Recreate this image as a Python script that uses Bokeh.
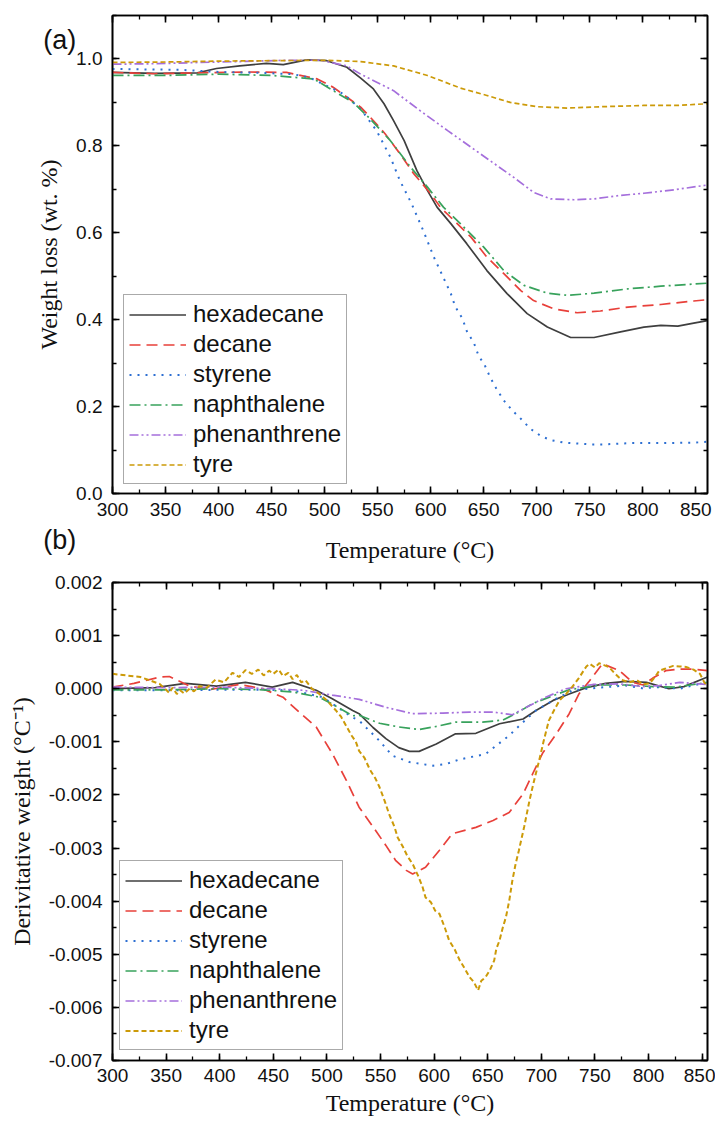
from bokeh.plotting import figure
from bokeh.models import (Range1d, LinearAxis, SingleIntervalTicker, PrintfTickFormatter,
                          Legend, LegendItem, Label, CustomLabelingPolicy)
from bokeh.layouts import column
from bokeh.embed import file_html
from bokeh.resources import INLINE

names = ["hexadecane", "decane", "styrene", "naphthalene", "phenanthrene", "tyre"]
colors = ["#3f3f3f", "#e8403a", "#2d6fd2", "#38a25c", "#a56fdc", "#cc9a08"]
dashes = ["solid", "11 6", "2 6", "11 4 2 4", "9 3 2 3 2 3", "5 3"]
widths = [1.7, 1.7, 2.0, 1.7, 1.7, 1.7]

hex_T = [300, 340, 380, 398, 420, 445, 461, 483, 502, 521, 534, 546, 556, 565, 575, 587, 597, 606,
         619, 634, 653, 672, 691, 710, 732, 754, 779, 801, 817, 833, 848, 861]
hex_W = [0.969, 0.967, 0.968, 0.978, 0.984, 0.990, 0.987, 0.998, 0.996, 0.981, 0.956, 0.931, 0.897,
         0.858, 0.812, 0.743, 0.697, 0.659, 0.621, 0.575, 0.513, 0.460, 0.414, 0.383, 0.359, 0.359,
         0.372, 0.383, 0.387, 0.385, 0.392, 0.398]
dec_T = [300, 340, 380, 427, 464, 493, 508, 534, 543, 557, 571, 584, 600, 609, 625, 638, 653, 669,
         685, 697, 716, 738, 760, 786, 817, 848, 861]
dec_W = [0.969, 0.966, 0.968, 0.970, 0.969, 0.954, 0.935, 0.889, 0.866, 0.828, 0.782, 0.736, 0.690,
         0.659, 0.621, 0.590, 0.544, 0.506, 0.467, 0.444, 0.425, 0.416, 0.420, 0.429, 0.435, 0.443,
         0.446]
sty_T = [300, 330, 364, 400, 440, 470, 486, 518, 534, 549, 562, 571, 582, 593, 603, 619, 623, 630,
         634, 641, 645, 651, 656, 662, 669, 677, 685, 694, 704, 713, 726, 751, 763, 789, 817, 848, 861]
sty_W = [0.977, 0.976, 0.975, 0.970, 0.968, 0.965, 0.957, 0.919, 0.885, 0.835, 0.774, 0.720, 0.667,
         0.605, 0.544, 0.460, 0.431, 0.402, 0.374, 0.345, 0.318, 0.295, 0.268, 0.241, 0.214, 0.191,
         0.172, 0.149, 0.132, 0.123, 0.117, 0.113, 0.113, 0.116, 0.116, 0.117, 0.119]
nap_T = [300, 350, 400, 450, 470, 490, 508, 527, 543, 562, 581, 597, 612, 628, 650, 669, 688, 710,
         729, 754, 786, 817, 861]
nap_W = [0.962, 0.962, 0.965, 0.962, 0.958, 0.954, 0.927, 0.900, 0.862, 0.812, 0.751, 0.705, 0.659,
         0.621, 0.567, 0.513, 0.479, 0.461, 0.456, 0.461, 0.471, 0.477, 0.484]
phe_T = [300, 340, 383, 420, 464, 496, 521, 534, 565, 590, 616, 638, 660, 678, 697, 713, 735, 754,
         779, 801, 830, 861]
phe_W = [0.988, 0.989, 0.992, 0.994, 0.997, 0.997, 0.984, 0.965, 0.927, 0.881, 0.835, 0.797, 0.759,
         0.728, 0.693, 0.678, 0.676, 0.678, 0.686, 0.691, 0.699, 0.710]
tyr_T = [300, 350, 400, 450, 500, 534, 565, 597, 628, 653, 675, 701, 729, 760, 801, 833, 861]
tyr_W = [0.992, 0.993, 0.995, 0.996, 0.997, 0.994, 0.984, 0.962, 0.933, 0.916, 0.900, 0.890, 0.887,
         0.890, 0.893, 0.893, 0.897]

hex_dT = [300, 340, 368, 397, 424, 449, 468, 490, 505, 524, 530, 543, 555, 567, 577, 586, 602, 620,
          639, 661, 683, 695, 711, 726, 742, 760, 779, 798, 819, 833, 855]
hex_dV = [0.0, 0.00002, 0.0001, 0.00005, 0.00012, 0.00003, 0.00012, -0.00003, -0.00019, -0.00041,
          -0.00047, -0.00073, -0.00094, -0.00111, -0.00118, -0.00118, -0.00104, -0.00085, -0.00084,
          -0.00066, -0.00057, -0.00041, -0.00022, -0.0001, 0.00002, 0.0001, 0.00014, 0.00012, 0.0,
          0.00004, 0.00022]
dec_dT = [300, 320, 344, 353, 372, 390, 418, 440, 459, 474, 490, 505, 518, 530, 543, 555, 564, 574,
          580, 592, 605, 617, 639, 655, 670, 683, 692, 701, 714, 726, 735, 745, 757, 773, 785, 795,
          804, 816, 829, 841, 855]
dec_dV = [0.00003, 0.0001, 0.00022, 0.00023, 0.00005, -0.00002, 0.00008, 0.0, -0.00016, -0.00044,
          -0.00072, -0.00122, -0.00172, -0.00223, -0.0026, -0.00295, -0.00323, -0.00342, -0.00349,
          -0.00336, -0.00304, -0.00273, -0.00261, -0.00248, -0.00233, -0.00198, -0.0016, -0.00122,
          -0.00085, -0.00047, -0.0001, 0.00015, 0.00047, 0.00034, 0.00012, 0.00007, 0.0002, 0.00034,
          0.00037, 0.00037, 0.00034]
sty_dT = [300, 350, 400, 440, 468, 496, 524, 530, 549, 561, 577, 599, 611, 624, 648, 670, 683, 695,
          711, 729, 754, 779, 794, 810, 829, 841, 855]
sty_dV = [-0.00003, -0.00003, -0.00002, -0.00002, -0.00003, -0.00016, -0.00054, -0.0006, -0.00098,
          -0.00126, -0.00138, -0.00145, -0.00142, -0.00133, -0.00123, -0.00088, -0.00063, -0.00041,
          -0.00022, -0.00003, 0.00002, 0.00006, 0.00001, 0.00003, 0.0, 0.00006, 0.00012]
nap_dT = [300, 350, 400, 440, 468, 493, 505, 524, 530, 549, 567, 586, 602, 620, 645, 664, 676, 692,
          711, 726, 754, 779, 804, 825, 855]
nap_dV = [-0.00002, -0.00002, 0.0, -0.00002, -0.00006, -0.00016, -0.00029, -0.00051, -0.0005,
          -0.00065, -0.00072, -0.00077, -0.00071, -0.00063, -0.00063, -0.00059, -0.00047, -0.00028,
          -0.00013, -0.00002, 0.00007, 0.00007, 0.00004, 0.00003, 0.00012]
phe_dT = [300, 350, 400, 450, 478, 505, 524, 530, 555, 580, 608, 633, 655, 673, 686, 704, 723, 748,
          773, 795, 810, 829, 855]
phe_dV = [0.00003, 0.00002, 0.00003, 0.0, -0.00003, -0.00012, -0.00018, -0.0002, -0.00035, -0.00047,
          -0.00046, -0.00044, -0.00044, -0.00049, -0.00035, -0.00016, 0.0, 0.00008, 0.00009, 0.00004,
          0.00006, 0.00012, 0.00008]
tyr_dT = [300, 326, 344, 350, 353, 356, 360, 363, 367, 372, 376, 381, 388, 396, 404, 412, 418, 424,
          430, 436, 441, 446, 450, 455, 459, 464, 468, 472, 476, 480, 486, 493, 500, 508, 513, 518,
          523, 527, 530, 535, 540, 545, 549, 554, 558, 563, 566, 571, 575, 580, 585, 589, 592, 597,
          601, 605, 610, 614, 619, 624, 628, 633, 637, 641, 644, 648, 652, 656, 658, 661, 664, 667,
          670, 673, 676, 679, 684, 689, 693, 698, 702, 707, 712, 717, 723, 729, 735, 742, 745, 750,
          754, 759, 763, 768, 772, 776, 782, 789, 795, 801, 806, 810, 816, 823, 829, 835, 842, 848,
          852, 855]
tyr_dV = [0.00028, 0.00022, 0.00009, -0.00002, -0.00008, 0.00002, -0.0001, -0.00003, -0.00009, 0.0,
          -0.00005, 0.00005, 0.00002, 0.00017, 0.00012, 0.0003, 0.00022, 0.00035, 0.00028, 0.00036,
          0.00025, 0.00034, 0.00028, 0.00036, 0.00024, 0.0003, 0.00018, 0.00026, 0.00012, 0.00016,
          0.0, -0.0001, -0.00022, -0.0004, -0.00052, -0.0007, -0.00088, -0.001, -0.00117, -0.0013,
          -0.00152, -0.00168, -0.00185, -0.00212, -0.00236, -0.0026, -0.0028, -0.00298, -0.00315,
          -0.0033, -0.00352, -0.00372, -0.00393, -0.00402, -0.00418, -0.00424, -0.0045, -0.00474,
          -0.0049, -0.00512, -0.00525, -0.00543, -0.00552, -0.00568, -0.0055, -0.00543, -0.0053,
          -0.00512, -0.0049, -0.00474, -0.0045, -0.0043, -0.004, -0.00361, -0.0033, -0.00305,
          -0.0026, -0.0021, -0.00175, -0.00135, -0.001, -0.0006, -0.0004, -0.00022, -0.0001, 0.00004,
          0.0002, 0.00042, 0.00047, 0.0004, 0.00048, 0.00044, 0.00041, 0.0003, 0.00022, 0.00016,
          0.00012, 0.00016, 0.00008, 0.0001, 0.00022, 0.00034, 0.00038, 0.00043, 0.00042, 0.00041,
          0.00036, 0.00028, 0.00012, 0.00005]

x_ticks_step = 50
x_label = "Temperature (\u00b0C)"
ya_label = "Weight loss (wt. %)"
yb_label = "Derivitative weight (\u00b0C\u207b\u00b9)"
panel_names = ["(a)", "(b)"]

TICK_FONT = "Liberation Sans"
LABEL_FONT = "Liberation Serif"
NO_LABELS = CustomLabelingPolicy(code="return new Set()")


def style_axis(ax, labels=True, label_standoff=10, axis_standoff=10):
    ax.axis_line_color = "black"
    ax.axis_line_width = 1.6
    ax.major_tick_in = 7
    ax.major_tick_out = 0
    ax.minor_tick_in = 4
    ax.minor_tick_out = 0
    ax.major_tick_line_color = "black"
    ax.minor_tick_line_color = "black"
    ax.major_tick_line_width = 1.6
    ax.minor_tick_line_width = 1.3
    ax.major_label_text_font = TICK_FONT
    ax.major_label_text_font_size = "19px"
    ax.major_label_text_color = "#111111"
    ax.major_label_standoff = label_standoff
    ax.axis_label_text_font = LABEL_FONT
    ax.axis_label_text_font_size = "24px"
    ax.axis_label_text_font_style = "normal"
    ax.axis_label_text_color = "#111111"
    ax.axis_label_standoff = axis_standoff
    if not labels:
        ax.major_label_policy = NO_LABELS
        ax.major_label_text_font_size = "1px"
        ax.major_label_standoff = 0


def make_fig(x_end, y_start, y_end, y_step, fmt, height, top, bottom, xl_standoff, xt_standoff):
    p = figure(width=715, height=height, output_backend="svg", toolbar_location=None,
               x_range=Range1d(300, x_end), y_range=Range1d(y_start, y_end),
               min_border_left=112, min_border_right=8, min_border_top=top,
               min_border_bottom=bottom, x_axis_type=None, y_axis_type=None)
    p.grid.visible = False
    p.outline_line_color = "black"
    p.outline_line_width = 1.6
    p.background_fill_color = "white"
    p.border_fill_color = "white"
    xt = SingleIntervalTicker(interval=x_ticks_step, num_minor_ticks=2)
    yt = SingleIntervalTicker(interval=y_step, num_minor_ticks=2)
    xb = LinearAxis(ticker=xt, axis_label=x_label)
    style_axis(xb, True, xt_standoff, xl_standoff)
    p.add_layout(xb, "below")
    xa = LinearAxis(ticker=xt)
    style_axis(xa, False)
    p.add_layout(xa, "above")
    yl = LinearAxis(ticker=yt, formatter=PrintfTickFormatter(format=fmt))
    style_axis(yl, True, 10, 11)
    p.add_layout(yl, "left")
    yr = LinearAxis(ticker=yt)
    style_axis(yr, False)
    p.add_layout(yr, "right")
    return p, yl


def add_legend(p, renderers, loc):
    items = [LegendItem(label=n, renderers=[r]) for n, r in zip(names, renderers)]
    lg = Legend(items=items, location=loc)
    lg.label_text_font = TICK_FONT
    lg.label_text_font_size = "24px"
    lg.label_text_color = "#111111"
    lg.glyph_width = 57
    lg.glyph_height = 25
    lg.label_height = 25
    lg.label_standoff = 7
    lg.spacing = 2
    lg.padding = 5
    lg.margin = 0
    lg.border_line_color = "#555555"
    lg.border_line_width = 1.2
    lg.background_fill_color = "white"
    lg.background_fill_alpha = 1.0
    p.add_layout(lg, "center")


pa, yla = make_fig(861, 0, 1.1, 0.2, "%.1f", 565, 15, 72, 18, 9)
yla.axis_label = ya_label
series_a = [(hex_T, hex_W), (dec_T, dec_W), (sty_T, sty_W), (nap_T, nap_W), (phe_T, phe_W),
            (tyr_T, tyr_W)]
rend_a = []
for (xs, ys), c, d, w in zip(series_a, colors, dashes, widths):
    rend_a.append(pa.line(xs, ys, line_color=c, line_dash=d, line_width=w))
add_legend(pa, rend_a, (11, 9))

# both panel letters in one label that lives in the left side panel (not clipped to the frame)
pa.add_layout(Label(x=250.3, y=0.4685, text="\n".join(panel_names), text_font=TICK_FONT,
                    text_font_size="27px", text_line_height=16.68, text_align="center",
                    text_baseline="middle", text_color="#111111"), "left")

pb, ylb = make_fig(855, -0.007, 0.002, 0.001, "%.3f", 559, 17, 64, 5, 8)
ylb.axis_label = yb_label
series_b = [(hex_dT, hex_dV), (dec_dT, dec_dV), (sty_dT, sty_dV), (nap_dT, nap_dV),
            (phe_dT, phe_dV), (tyr_dT, tyr_dV)]
rend_b = []
for i, ((xs, ys), c, d, w) in enumerate(zip(series_b, colors, dashes, widths)):
    lw = 2.0 if i == 5 else w
    rend_b.append(pb.line(xs, ys, line_color=c, line_dash=d, line_width=lw))
add_legend(pb, rend_b, (7, 10))

layout = column(pa, pb, spacing=0)
open("out.html", "w").write(file_html(layout, INLINE))
